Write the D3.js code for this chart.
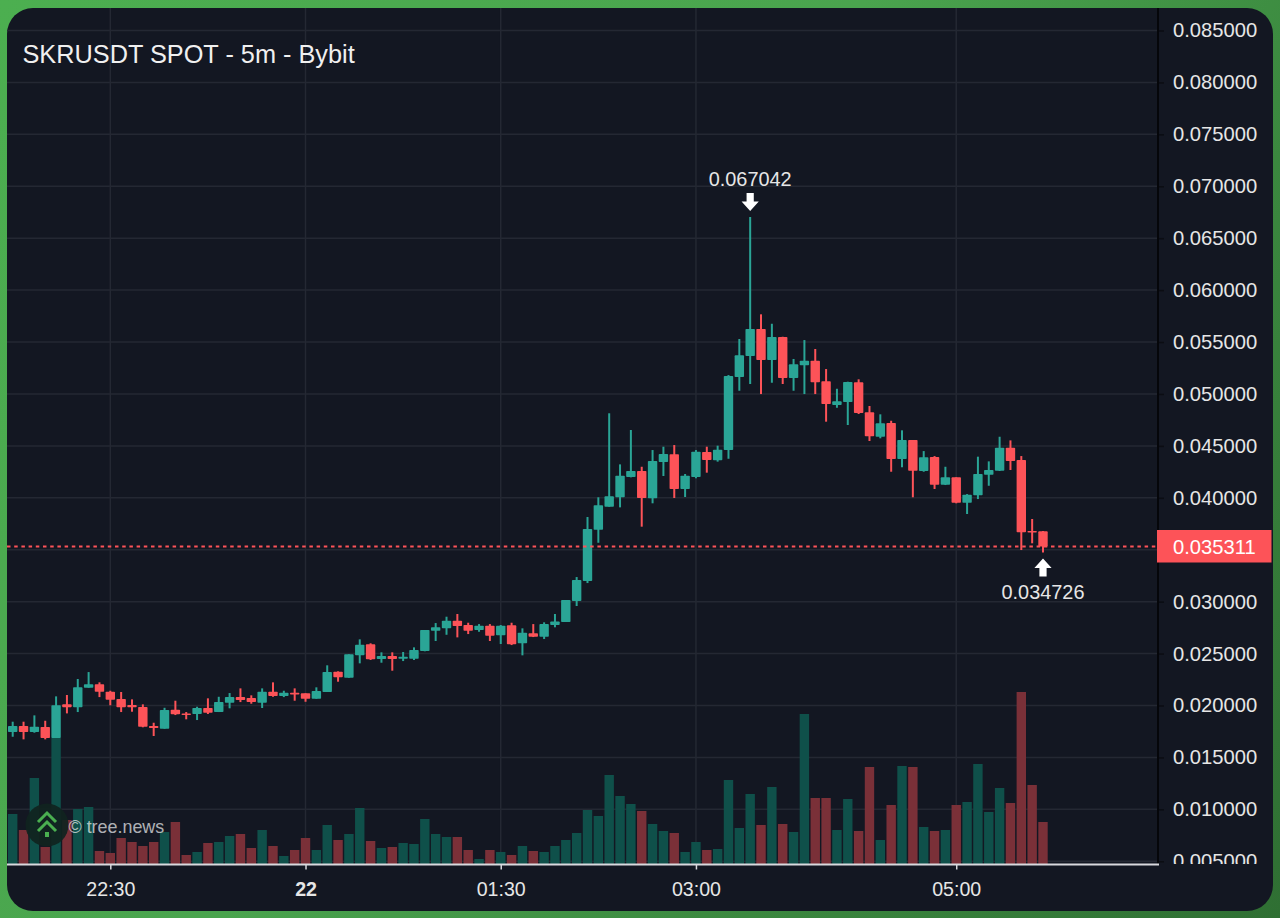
<!DOCTYPE html>
<html>
<head>
<meta charset="utf-8">
<script src="https://cdnjs.cloudflare.com/ajax/libs/d3/7.8.5/d3.min.js"></script>
<style>
  html, body { margin: 0; padding: 0; width: 1280px; height: 918px; overflow: hidden; }
  body { background: linear-gradient(125deg, #4caf50 0%, #4aa44e 45%, #3c8a40 70%, #2f6f33 100%); }
  svg { display: block; font-family: "Liberation Sans", Arial, sans-serif; }
</style>
</head>
<body>
<div id="chart"></div>
<script>
// velas de 5 minutos, la primera es 21:45
const opens = [0.01744,0.01802,0.01744,0.01793,0.01687,0.02011,0.01982,0.02171,0.02204,0.02133,0.02062,0.02004,0.01985,0.01802,0.01776,0.01959,
  0.01924,0.01918,0.01976,0.01937,0.02027,0.02081,0.02072,0.02027,0.02133,0.02091,0.02123,0.02117,0.02065,0.02130,0.02325,0.02267,
  0.02483,0.02589,0.02447,0.02476,0.02450,0.02450,0.02524,0.02720,0.02743,0.02816,0.02775,0.02727,0.02768,0.02676,0.02772,0.02599,
  0.02695,0.02662,0.02775,0.02804,0.03006,0.03199,0.03693,0.03914,0.04005,0.04200,0.04258,0.03995,0.04345,0.04419,0.04085,0.04200,
  0.04441,0.04361,0.04460,0.05163,0.05365,0.05625,0.05327,0.05548,0.05154,0.05276,0.05320,0.05122,0.04894,0.04922,0.05112,0.04823,
  0.04588,0.04720,0.04373,0.04556,0.04258,0.04393,0.04126,0.04197,0.03953,0.04024,0.04222,0.04261,0.04482,0.04364,0.03680,0.03677];
const highs = [0.01844,0.01844,0.01905,0.01853,0.02088,0.02101,0.02255,0.02322,0.02223,0.02142,0.02130,0.02059,0.02011,0.01834,0.01978,0.02046,
  0.01937,0.01988,0.02069,0.02084,0.02120,0.02165,0.02098,0.02165,0.02223,0.02142,0.02165,0.02117,0.02175,0.02387,0.02329,0.02493,
  0.02637,0.02599,0.02512,0.02512,0.02515,0.02560,0.02727,0.02794,0.02855,0.02881,0.02797,0.02784,0.02784,0.02775,0.02797,0.02743,
  0.02784,0.02801,0.02881,0.03016,0.03237,0.03815,0.04005,0.04814,0.04322,0.04653,0.04299,0.04460,0.04492,0.04508,0.04229,0.04460,
  0.04492,0.04502,0.05182,0.05529,0.06704,0.05767,0.05676,0.05551,0.05337,0.05519,0.05433,0.05240,0.05050,0.05118,0.05141,0.04884,
  0.04804,0.04742,0.04650,0.04556,0.04450,0.04402,0.04299,0.04197,0.04036,0.04396,0.04351,0.04588,0.04553,0.04402,0.03796,0.03680];
const lows = [0.01699,0.01674,0.01738,0.01674,0.01687,0.01924,0.01937,0.02171,0.02081,0.02002,0.01937,0.01940,0.01790,0.01706,0.01776,0.01908,
  0.01867,0.01860,0.01918,0.01937,0.01973,0.02033,0.02017,0.01976,0.02084,0.02081,0.02046,0.02036,0.02065,0.02130,0.02229,0.02267,
  0.02406,0.02438,0.02412,0.02335,0.02428,0.02438,0.02522,0.02621,0.02681,0.02656,0.02688,0.02710,0.02621,0.02592,0.02582,0.02483,
  0.02659,0.02640,0.02753,0.02804,0.02958,0.03179,0.03567,0.03914,0.03908,0.04197,0.03722,0.03947,0.04210,0.03998,0.04008,0.04188,
  0.04242,0.04348,0.04376,0.05031,0.05096,0.04999,0.05108,0.05096,0.05031,0.04999,0.04999,0.04733,0.04867,0.04701,0.04807,0.04547,
  0.04573,0.04251,0.04294,0.04005,0.04251,0.04085,0.04123,0.03947,0.03844,0.03988,0.04116,0.04258,0.04268,0.03497,0.03562,0.034726];
const closes = [0.01802,0.01744,0.01795,0.01687,0.02002,0.01982,0.02175,0.02204,0.02133,0.02055,0.01982,0.01982,0.01795,0.01783,0.01956,0.01915,
  0.01911,0.01976,0.01930,0.02033,0.02081,0.02053,0.02033,0.02133,0.02091,0.02123,0.02106,0.02065,0.02139,0.02322,0.02271,0.02493,
  0.02585,0.02445,0.02476,0.02447,0.02470,0.02534,0.02727,0.02753,0.02816,0.02765,0.02720,0.02768,0.02672,0.02768,0.02589,0.02701,
  0.02662,0.02784,0.02810,0.03016,0.03208,0.03699,0.03928,0.04014,0.04213,0.04258,0.03998,0.04354,0.04422,0.04085,0.04213,0.04444,
  0.04364,0.04463,0.05173,0.05372,0.05625,0.05327,0.05548,0.05154,0.05285,0.05320,0.05112,0.04903,0.04929,0.05115,0.04816,0.04592,
  0.04717,0.04373,0.04556,0.04261,0.04390,0.04126,0.04197,0.03953,0.04030,0.04229,0.04268,0.04482,0.04354,0.03668,0.03668,0.035311];
// volumen relativo (la escala real del panel no se ve)
const volumes = [50,34,86,17,126,44,55,57,13,11,26,22,18,22,32,42,
  9,12,21,22,28,30,16,34,18,8,14,26,14,39,24,30,
  56,23,16,17,21,20,45,30,27,27,14,5,14,12,9,18,
  13,12,18,24,31,54,48,89,68,60,53,40,33,31,12,22,
  14,15,84,36,70,39,77,40,32,150,66,66,34,65,33,97,
  24,59,98,97,37,33,34,59,62,100,52,76,61,172,79,42];

const priceTicks = [0.085,0.08,0.075,0.07,0.065,0.06,0.055,0.05,0.045,0.04,0.035,0.03,0.025,0.02,0.015,0.01,0.005];
const timeTickBars = [9,27,45,63,87];
const timeTickLabels = ["22:30","22","01:30","03:00","05:00"];
const titulo = "SKRUSDT SPOT - 5m - Bybit";
const ultimoPrecio = 0.035311;
const maximo = 0.067042;
const minimo = 0.034726;

const width = 1280;
const height = 918;
const card = { left: 7, top: 8, right: 1273, bottom: 911 };
const plotRight = 1158;
const plotBottom = 864;

const UP = "#2aa596";
const DOWN = "#fd5358";

const x = d3.scaleLinear().domain([0, 95]).range([12.7, 1043]);
const y = d3.scaleLinear().domain([0.085, 0.02]).range([30.5, 705.5]);
const yVol = d3.scaleLinear().domain([0, 172]).range([plotBottom, 692]);

const svg = d3.select("#chart").append("svg").attr("width", width).attr("height", height);

const defs = svg.append("defs");
defs.append("clipPath").attr("id", "clipPlot").append("rect")
  .attr("x", card.left).attr("y", card.top)
  .attr("width", plotRight - card.left).attr("height", plotBottom - card.top);
// recorta el ultimo rotulo del eje, como en la captura
defs.append("clipPath").attr("id", "clipEje").append("rect")
  .attr("x", plotRight - 2).attr("y", card.top)
  .attr("width", 120).attr("height", plotBottom - card.top);

svg.append("rect")
  .attr("x", card.left).attr("y", card.top)
  .attr("width", card.right - card.left).attr("height", card.bottom - card.top)
  .attr("rx", 26).attr("fill", "#131722");

// rejilla
const rejilla = svg.append("g").attr("clip-path", "url(#clipPlot)").attr("stroke", "#242833").attr("stroke-width", 1.5);
rejilla.selectAll("line.h").data(priceTicks).join("line").attr("class", "h")
  .attr("x1", card.left).attr("x2", plotRight)
  .attr("y1", (d) => y(d)).attr("y2", (d) => y(d));
rejilla.selectAll("line.v").data(timeTickBars).join("line").attr("class", "v")
  .attr("x1", (d) => x(d)).attr("x2", (d) => x(d))
  .attr("y1", card.top).attr("y2", plotBottom);

// volumen
svg.append("g").selectAll("rect").data(volumes).join("rect")
  .attr("x", (d, i) => x(i) - 4.7)
  .attr("width", 9.4)
  .attr("y", (d) => yVol(d))
  .attr("height", (d) => plotBottom - yVol(d))
  .attr("fill", (d, i) => closes[i] >= opens[i] ? "#0f504a" : "#7a3038");

// velas
const velas = svg.append("g").selectAll("g").data(opens).join("g")
  .attr("fill", (d, i) => closes[i] >= opens[i] ? UP : DOWN)
  .attr("stroke", (d, i) => closes[i] >= opens[i] ? UP : DOWN);
velas.append("line")
  .attr("x1", (d, i) => x(i)).attr("x2", (d, i) => x(i))
  .attr("y1", (d, i) => y(highs[i])).attr("y2", (d, i) => y(lows[i]))
  .attr("stroke-width", 2);
velas.append("rect")
  .attr("stroke", "none")
  .attr("x", (d, i) => x(i) - 4.7)
  .attr("width", 9.4)
  .attr("y", (d, i) => Math.min(y(opens[i]), y(closes[i])))
  .attr("height", (d, i) => Math.max(1.5, Math.abs(y(opens[i]) - y(closes[i]))))
  .attr("rx", 0.8);

// linea del ultimo precio
svg.append("line")
  .attr("x1", card.left).attr("x2", plotRight)
  .attr("y1", y(ultimoPrecio)).attr("y2", y(ultimoPrecio))
  .attr("stroke", DOWN).attr("stroke-width", 1.8).attr("stroke-dasharray", "3.5,3.7");

// eje de precios, sin el rotulo que tapa la etiqueta del ultimo precio
const ejeY = svg.append("g")
  .attr("clip-path", "url(#clipEje)")
  .append("g")
  .attr("transform", `translate(${plotRight},0)`)
  .call(d3.axisRight(y).tickValues(priceTicks.filter((d) => d !== 0.035)).tickFormat(d3.format(".6f")).tickSize(6).tickPadding(9));
ejeY.select(".domain").remove();
ejeY.selectAll("line").attr("stroke", "#0b0d13").attr("stroke-width", 1.5);
ejeY.selectAll("text").attr("fill", "#e6e6e6").attr("font-size", 20.2).attr("font-family", "Liberation Sans");

svg.append("line")
  .attr("x1", plotRight).attr("x2", plotRight)
  .attr("y1", card.top).attr("y2", plotBottom + 1)
  .attr("stroke", "#05060a").attr("stroke-width", 2);

// eje de tiempo
const ejeX = svg.append("g")
  .attr("transform", `translate(0,${plotBottom + 0.5})`)
  .call(d3.axisBottom(x).tickValues(timeTickBars).tickFormat((d, i) => timeTickLabels[i]).tickSize(5).tickPadding(13));
ejeX.select(".domain").remove();
ejeX.selectAll("line").attr("stroke", "#d9d9de").attr("stroke-width", 1.5);
ejeX.selectAll("text").attr("fill", "#e6e6e6").attr("font-size", 19.6).attr("font-family", "Liberation Sans")
  .attr("font-weight", (d, i) => timeTickLabels[i] === "22" ? "bold" : "normal");

svg.append("line")
  .attr("x1", card.left).attr("x2", plotRight + 1)
  .attr("y1", plotBottom + 0.5).attr("y2", plotBottom + 0.5)
  .attr("stroke", "#d9d9de").attr("stroke-width", 2);

// etiqueta del ultimo precio
svg.append("rect")
  .attr("x", plotRight - 1).attr("y", y(ultimoPrecio) - 16.5)
  .attr("width", 114.5).attr("height", 32.5)
  .attr("fill", DOWN);
svg.append("text")
  .attr("x", 1173).attr("y", y(ultimoPrecio) + 7)
  .attr("fill", "#ffffff").attr("font-size", 20.2)
  .text(d3.format(".6f")(ultimoPrecio));

// titulo
svg.append("text").attr("x", 22.5).attr("y", 63)
  .attr("fill", "#f0f0f0").attr("font-size", 25.3)
  .text(titulo);

// marcadores de maximo y minimo
const flecha = "M-3.6,-9 H3.6 V-0.5 H8.6 L0,9 L-8.6,-0.5 H-3.6 Z";
const marcadores = [
  { bar: 68, precio: maximo, dy: -15, rot: 0, ty: -31 },
  { bar: 95, precio: minimo, dy: 15, rot: 180, ty: 46 },
];
marcadores.forEach((m) => {
  svg.append("path")
    .attr("transform", `translate(${x(m.bar)},${y(m.precio) + m.dy}) rotate(${m.rot})`)
    .attr("d", flecha).attr("fill", "#ffffff");
  svg.append("text")
    .attr("x", x(m.bar)).attr("y", y(m.precio) + m.ty)
    .attr("text-anchor", "middle")
    .attr("fill", "#e6e6e6").attr("font-size", 19.9)
    .text(d3.format(".6f")(m.precio));
});

// logo y marca de agua
const logo = svg.append("g").attr("transform", "translate(47,825)");
logo.append("circle").attr("r", 21.5).attr("fill", "#10231f").attr("fill-opacity", 0.93);
logo.append("path").attr("d", "M-9,-3 L0,-12 L9,-3").attr("fill", "none").attr("stroke", "#4aaf50").attr("stroke-width", 3);
logo.append("path").attr("d", "M-9,6 L0,-3 L9,6").attr("fill", "none").attr("stroke", "#4aaf50").attr("stroke-width", 3);
logo.append("rect").attr("x", -2).attr("y", 7).attr("width", 4).attr("height", 5).attr("fill", "#4aaf50");
svg.append("text").attr("x", 68.5).attr("y", 833)
  .attr("fill", "#ffffff").attr("fill-opacity", 0.68).attr("font-size", 17.9)
  .text("© tree.news");
</script>
</body>
</html>
